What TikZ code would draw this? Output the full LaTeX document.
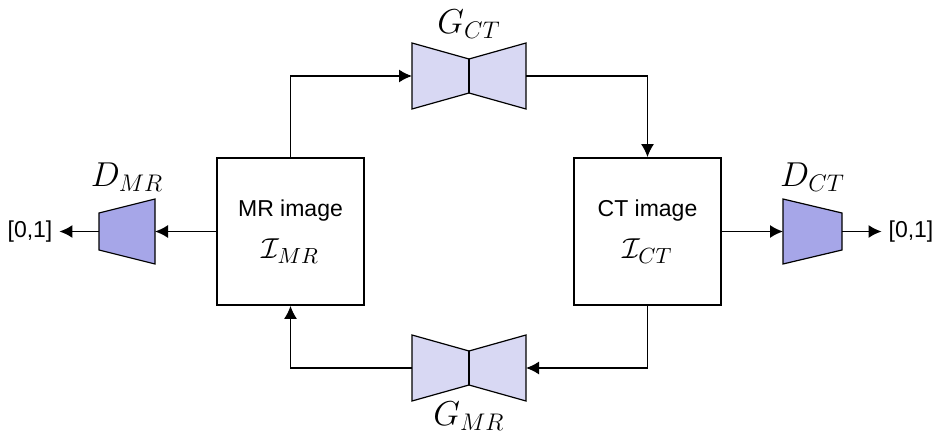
\documentclass[tikz,border=0pt]{standalone}
\usepackage{amsmath}
\usepackage{amssymb}
\usepackage{fontspec}
\setmainfont{Liberation Sans}
\usepackage{tikz}
\usetikzlibrary{arrows.meta, positioning}

\definecolor{genfill}{RGB}{216,216,243}
\definecolor{discfill}{RGB}{166,166,232}

\begin{document}
\begin{tikzpicture}[x=0.5pt, y=-0.5pt,
		every node/.style={font=\fontsize{11.5pt}{14pt}\selectfont},
		flow/.style={line width=0.75pt, -{Latex[length=6.5pt, width=6.5pt]}},
		imgbox/.style={draw, line width=0.9pt, minimum width=73.5pt, minimum height=73.5pt, align=center},
		gen/.style={draw, line width=0.6pt, fill=genfill, line join=miter},
		disc/.style={draw, line width=0.6pt, fill=discfill},
		netlbl/.style={font=\LARGE}]
			
			\useasboundingbox (0,0) rectangle (939,433);
			
			% Image domains
			\node[imgbox] (mr) at (290.5,231.5) {MR image\\[7pt]{\fontsize{15pt}{18pt}\selectfont$\mathcal{I}_{MR}$}};
			\node[imgbox] (ct) at (647.5,231.5) {CT image\\[7pt]{\fontsize{15pt}{18pt}\selectfont$\mathcal{I}_{CT}$}};
			
			% Generator G_CT (top)
			\begin{scope}[shift={(469,76)}]
				\draw[gen] (-57,-33) -- (0,-17) -- (57,-33) -- (57,33) -- (0,17) -- (-57,33) -- cycle;
				\draw[line width=0.6pt] (0,-17) -- (0,17);
				\coordinate (gctin) at (-57,0);
				\coordinate (gctout) at (57,0);
				\node[netlbl] (gctlbl) at (0,-52) {$G_{CT}$};
			\end{scope}
			
			% Generator G_MR (bottom)
			\begin{scope}[shift={(469,368)}]
				\draw[gen] (-57,-33) -- (0,-17) -- (57,-33) -- (57,33) -- (0,17) -- (-57,33) -- cycle;
				\draw[line width=0.6pt] (0,-17) -- (0,17);
				\coordinate (gmrin) at (57,0);
				\coordinate (gmrout) at (-57,0);
				\node[netlbl] (gmrlbl) at (0,48) {$G_{MR}$};
			\end{scope}
			
			% Discriminator D_MR (left)
			\begin{scope}[shift={(127,231.5)}]
				\draw[disc] (-28,-18.5) -- (28,-32.5) -- (28,32.5) -- (-28,18.5) -- cycle;
				\coordinate (dmrin) at (28,0);
				\coordinate (dmrout) at (-28,0);
				\node[netlbl] (dmrlbl) at (0,-54) {$D_{MR}$};
			\end{scope}
			
			% Discriminator D_CT (right)
			\begin{scope}[shift={(812.5,231.5)}]
				\draw[disc] (-29.5,-32.5) -- (29.5,-18.5) -- (29.5,18.5) -- (-29.5,32.5) -- cycle;
				\coordinate (dctin) at (-29.5,0);
				\coordinate (dctout) at (29.5,0);
				\node[netlbl] (dctlbl) at (0,-54) {$D_{CT}$};
			\end{scope}
			
			% Outputs
			\node (outmr) at (30,231.5) {[0,1]};
			\node (outct) at (911,231.5) {[0,1]};
			
			% Cycle MR -> CT -> MR
			\draw[flow] (mr.north) |- (gctin);
			\draw[flow] (gctout) -| (ct.north);
			\draw[flow] (ct.south) |- (gmrin);
			\draw[flow] (gmrout) -| (mr.south);
			
			% Adversarial branches
			\draw[flow] (mr.west) -- (dmrin);
			\draw[flow] (dmrout) -- (outmr);
			\draw[flow] (ct.east) -- (dctin);
			\draw[flow] (dctout) -- (outct);
			
		\end{tikzpicture}
\end{document}
